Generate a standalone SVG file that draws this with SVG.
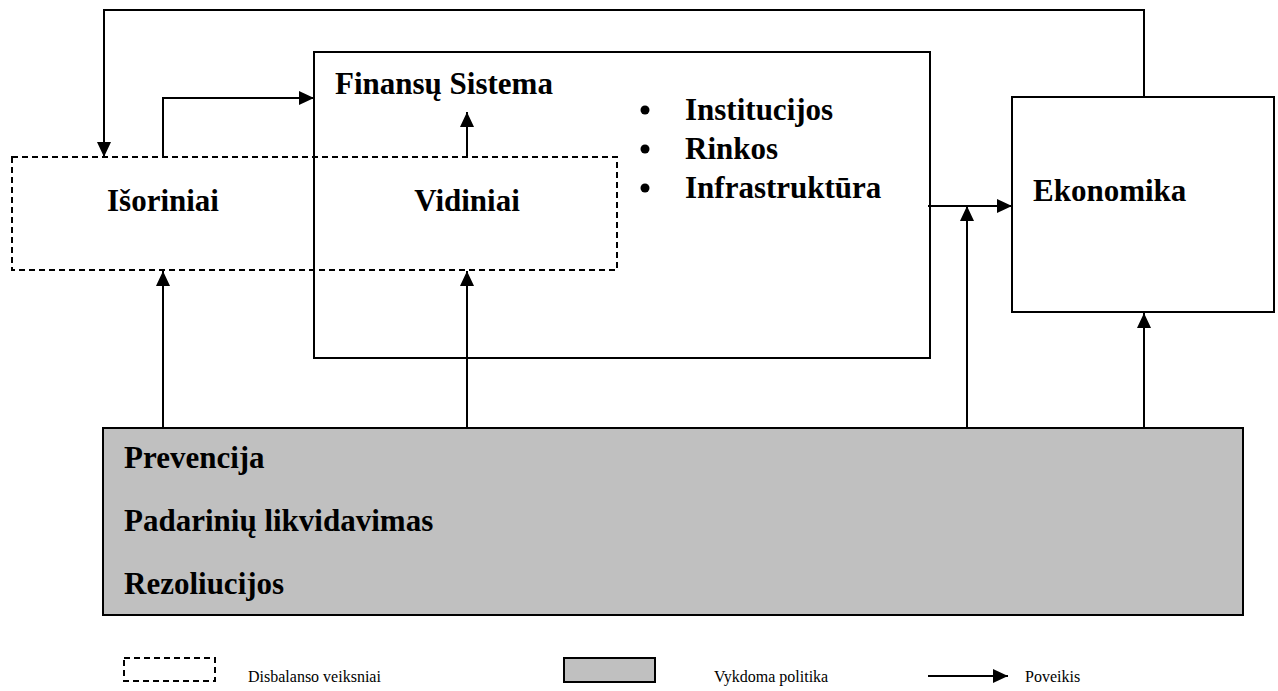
<svg xmlns="http://www.w3.org/2000/svg" width="1278" height="691" viewBox="0 0 1278 691">
<style>
.box{fill:#fff;stroke:#000;stroke-width:2}
.dash{fill:none;stroke:#000;stroke-width:2;stroke-dasharray:6,4}
.pol{fill:#c0c0c0;stroke:#000;stroke-width:2}
.t{font-family:"Liberation Serif","Times New Roman",serif;font-weight:bold;font-size:31px;fill:#000}
.l{font-family:"Liberation Serif","Times New Roman",serif;font-size:16px;fill:#000}
.c{fill:none;stroke:#000;stroke-width:2}
</style>
<defs>
<marker id="ah" markerUnits="userSpaceOnUse" markerWidth="16" markerHeight="14" refX="15" refY="7" orient="auto">
<path d="M0,0 L15,7 L0,14 z" fill="#000"/>
</marker>
</defs>
<rect width="1278" height="691" fill="#fff"/>
<g id="finansu-sistema">
<rect class="box" x="314" y="52" width="616" height="306"/>
<text class="t" x="335" y="94">Finansų Sistema</text>
<circle cx="645" cy="110" r="4.5"/>
<circle cx="645" cy="149" r="4.5"/>
<circle cx="645" cy="188" r="4.5"/>
<text class="t" x="685" y="120">Institucijos</text>
<text class="t" x="685" y="159">Rinkos</text>
<text class="t" x="685" y="198">Infrastruktūra</text>
</g>
<g id="veiksniai">
<rect class="dash" x="12" y="157" width="605" height="113"/>
<text class="t" x="163" y="211" text-anchor="middle">Išoriniai</text>
<text class="t" x="467" y="211" text-anchor="middle">Vidiniai</text>
</g>
<g id="ekonomika">
<rect class="box" x="1012" y="97" width="262" height="215"/>
<text class="t" x="1033" y="201">Ekonomika</text>
</g>
<g id="politika">
<rect class="pol" x="103" y="428" width="1140" height="187"/>
<text class="t" x="124" y="468">Prevencija</text>
<text class="t" x="124" y="531">Padarinių likvidavimas</text>
<text class="t" x="124" y="594">Rezoliucijos</text>
</g>
<g id="connectors">
<path class="c" d="M1144,97 V10 H104 V157" marker-end="url(#ah)"/>
<path class="c" d="M163,157 V98 H314" marker-end="url(#ah)"/>
<path class="c" d="M467,157 V112" marker-end="url(#ah)"/>
<path class="c" d="M163,428 V271" marker-end="url(#ah)"/>
<path class="c" d="M467,428 V271" marker-end="url(#ah)"/>
<path class="c" d="M928,206 H1012" marker-end="url(#ah)"/>
<path class="c" d="M967,428 V206" marker-end="url(#ah)"/>
<path class="c" d="M1144,428 V313" marker-end="url(#ah)"/>
</g>
<g id="legend">
<rect class="dash" x="124" y="658" width="91" height="23"/>
<text class="l" x="248" y="682">Disbalanso veiksniai</text>
<rect class="pol" x="564" y="658" width="91" height="24"/>
<text class="l" x="714" y="682">Vykdoma politika</text>
<path class="c" d="M928,676 H1008" marker-end="url(#ah)"/>
<text class="l" x="1025" y="682">Poveikis</text>
</g>
</svg>
